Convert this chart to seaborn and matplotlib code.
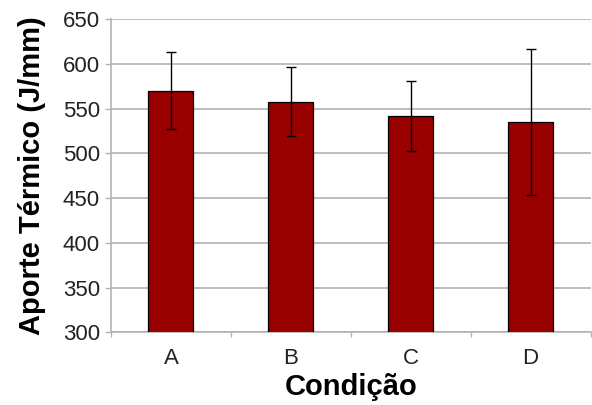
import matplotlib
matplotlib.use("Agg")
import matplotlib.pyplot as plt
from matplotlib.ticker import FixedLocator
import seaborn as sns
import pandas as pd
import numpy as np

categories = ["A", "B", "C", "D"]
values = [570, 558, 542, 535]
errors = [43, 39, 39, 82]
yticks = [300, 350, 400, 450, 500, 550, 600, 650]

sns.set_style("white")
plt.rcParams['font.family'] = ['Liberation Sans', 'DejaVu Sans']

df = pd.DataFrame({"cond": categories, "val": values})

fig = plt.figure(figsize=(5.92, 4.05), dpi=100)
ax = fig.add_axes([0.1875, 0.1795, 0.81, 0.7728])

sns.barplot(data=df, x="cond", y="val", color="#990000", saturation=1,
            width=0.375, edgecolor="black", linewidth=0.9, errorbar=None,
            ax=ax, zorder=3)
ax.errorbar(np.arange(len(categories)), values, yerr=errors, fmt="none",
            ecolor="black", elinewidth=1.0, capsize=3.6, capthick=1.0, zorder=4)

ax.set_ylim(300, 650)
ax.set_xlim(-0.5, len(categories) - 0.5)
ax.set_yticks(yticks)
ax.yaxis.grid(True, color="#b3b3b3", linewidth=1.2, zorder=0)
ax.set_axisbelow(True)

for s in ["top", "right"]:
    ax.spines[s].set_visible(False)
for s in ["left", "bottom"]:
    ax.spines[s].set_color("#b3b3b3")
    ax.spines[s].set_linewidth(1.2)

ax.tick_params(axis="y", which="major", direction="out", length=4.3, width=1.0,
               color="#b3b3b3", pad=3.6, labelsize=16, labelcolor="#222222", left=True)
ax.tick_params(axis="x", which="major", length=0, pad=11, labelsize=16,
               labelcolor="#222222")
ax.xaxis.set_minor_locator(FixedLocator(np.arange(len(categories) + 1) - 0.5))
ax.tick_params(axis="x", which="minor", direction="out", length=3.6, width=1.0,
               color="#b3b3b3", bottom=True)

ax.set_xlabel("Condição", fontsize=21, fontweight="bold", labelpad=3, color="black")
ax.set_ylabel("Aporte Térmico (J/mm)", fontsize=21, fontweight="bold", labelpad=12,
              color="black")

fig.savefig("out.png", dpi=100)
